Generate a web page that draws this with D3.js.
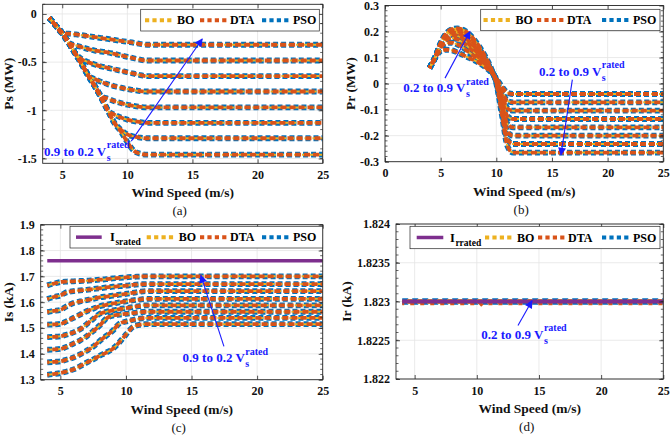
<!DOCTYPE html>
<html><head><meta charset="utf-8">
<script src="https://cdn.jsdelivr.net/npm/d3@7"></script>
<style>
body{margin:0;background:#fff}
svg{display:block;font-family:"Liberation Serif",serif}
text{font-family:"Liberation Serif",serif}
</style>
</head><body>
<svg id="chart" width="670" height="436"></svg>
<script>
// ---------------- DATA ----------------
const methods = ["BO", "DTA", "PSO"];
const windSpeed = [4,4.5,5,5.5,6,6.5,7,7.5,8,8.5,9,9.5,10,10.5,11,11.5,25];

// (a) Stator active power Ps (MW), curves 0.2 ... 0.9 Vs rated
const psCurves = [
  [-0.04,-0.12,-0.20,-0.205,-0.212,-0.22,-0.23,-0.24,-0.25,-0.26,-0.27,-0.28,-0.29,-0.30,-0.312,-0.32,-0.32],
  [-0.04,-0.12,-0.20,-0.30,-0.325,-0.345,-0.365,-0.38,-0.39,-0.40,-0.415,-0.43,-0.445,-0.46,-0.475,-0.483,-0.483],
  [-0.04,-0.12,-0.20,-0.30,-0.41,-0.47,-0.50,-0.525,-0.545,-0.56,-0.575,-0.59,-0.605,-0.62,-0.635,-0.645,-0.645],
  [-0.04,-0.12,-0.20,-0.30,-0.41,-0.52,-0.64,-0.675,-0.705,-0.73,-0.75,-0.765,-0.78,-0.79,-0.80,-0.805,-0.805],
  [-0.04,-0.12,-0.20,-0.30,-0.41,-0.52,-0.64,-0.75,-0.85,-0.88,-0.905,-0.925,-0.942,-0.955,-0.965,-0.97,-0.97],
  [-0.04,-0.12,-0.20,-0.30,-0.41,-0.52,-0.64,-0.75,-0.87,-1.00,-1.045,-1.075,-1.097,-1.113,-1.123,-1.13,-1.13],
  [-0.04,-0.12,-0.20,-0.30,-0.41,-0.52,-0.64,-0.75,-0.87,-1.00,-1.13,-1.20,-1.25,-1.272,-1.284,-1.29,-1.29],
  [-0.04,-0.12,-0.20,-0.30,-0.41,-0.52,-0.64,-0.75,-0.87,-1.00,-1.13,-1.22,-1.33,-1.42,-1.45,-1.46,-1.46]
];

// (b) Rotor active power Pr (MW), curves 0.2 ... 0.9 Vs rated
const prCurves = [
  [0.06,0.098,0.125,0.130,0.128,0.120,0.110,0.100,0.090,0.078,0.063,0.045,0.020,-0.012,-0.035,-0.040,-0.040],
  [0.06,0.100,0.138,0.155,0.157,0.150,0.138,0.122,0.105,0.088,0.070,0.048,0.018,-0.030,-0.066,-0.072,-0.072],
  [0.06,0.100,0.145,0.168,0.175,0.170,0.157,0.140,0.120,0.098,0.075,0.050,0.015,-0.045,-0.095,-0.104,-0.104],
  [0.06,0.100,0.150,0.178,0.187,0.184,0.172,0.155,0.133,0.108,0.080,0.052,0.012,-0.060,-0.125,-0.136,-0.136],
  [0.06,0.100,0.152,0.184,0.196,0.194,0.183,0.166,0.143,0.116,0.085,0.053,0.010,-0.075,-0.155,-0.168,-0.168],
  [0.06,0.100,0.154,0.188,0.202,0.202,0.192,0.176,0.152,0.124,0.090,0.055,0.008,-0.090,-0.185,-0.200,-0.200],
  [0.06,0.100,0.155,0.191,0.206,0.208,0.200,0.185,0.161,0.132,0.096,0.057,0.005,-0.105,-0.215,-0.232,-0.232],
  [0.06,0.100,0.156,0.193,0.209,0.212,0.207,0.193,0.170,0.140,0.105,0.062,0.000,-0.120,-0.240,-0.265,-0.265]
];

// (c) Stator current Is (kA), curves 0.2 ... 0.9 Vs rated
const isCurves = [
  [1.665,1.672,1.678,1.680,1.681,1.682,1.683,1.685,1.687,1.689,1.692,1.694,1.696,1.698,1.699,1.700,1.700],
  [1.612,1.620,1.626,1.639,1.643,1.646,1.648,1.651,1.654,1.657,1.660,1.662,1.664,1.667,1.669,1.670,1.670],
  [1.562,1.566,1.570,1.585,1.597,1.603,1.608,1.613,1.619,1.622,1.625,1.629,1.632,1.636,1.640,1.643,1.643],
  [1.513,1.514,1.516,1.527,1.539,1.552,1.565,1.575,1.584,1.590,1.595,1.599,1.603,1.607,1.610,1.613,1.613],
  [1.465,1.466,1.468,1.475,1.483,1.495,1.515,1.535,1.555,1.563,1.568,1.573,1.577,1.581,1.585,1.588,1.588],
  [1.416,1.417,1.419,1.428,1.440,1.452,1.468,1.488,1.510,1.537,1.548,1.552,1.555,1.558,1.561,1.563,1.563],
  [1.367,1.369,1.371,1.378,1.386,1.398,1.412,1.428,1.450,1.470,1.490,1.517,1.525,1.531,1.536,1.539,1.539],
  [1.319,1.322,1.326,1.332,1.340,1.352,1.366,1.378,1.393,1.405,1.420,1.445,1.475,1.503,1.512,1.515,1.515]
];
const ratedWind = [4, 25];
const isRated = [1.76, 1.76];

// (d) Rotor current Ir (kA)
const irWind  = [4, 6, 8, 10, 10.2, 10.4, 12, 14, 16, 18, 20, 22, 25];
const irBO    = [1.823,1.823,1.823,1.823,1.823,1.823,1.823,1.823,1.823,1.823,1.823,1.823,1.823];
const irDTA   = [1.823,1.823,1.823,1.823,1.82297,1.823,1.823,1.823,1.823,1.823,1.823,1.823,1.823];
const irPSO   = [1.823,1.823,1.823,1.823,1.823,1.823,1.823,1.823,1.823,1.823,1.823,1.823,1.823];
const irRated = [1.823, 1.823];

// ticks
const xTicks  = [5, 10, 15, 20, 25];
const xTicksB = [0, 5, 10, 15, 20, 25];
const psTicks = [-1.5, -1, -0.5, 0];
const prTicks = [-0.3, -0.2, -0.1, 0, 0.1, 0.2, 0.3];
const isTicks = [1.3, 1.4, 1.5, 1.6, 1.7, 1.8, 1.9];
const irTicks = [1.822, 1.8225, 1.823, 1.8235, 1.824];

// ---------------- STYLE ----------------
const FONT = '"Liberation Serif", serif';
const COL = {BO:"#EDB120", DTA:"#D95319", PSO:"#0072BD", rated:"#7E2F8E", ann:"#1a1aff", axis:"#262626", grid:"#e4e4e4"};
const LSTY = {
  PSO:{w:5.8, dash:"5 3", off:0},
  BO: {w:2.0, dash:"6 2", off:1},
  DTA:{w:3.8, dash:"6 3", off:4}
};
const svg = d3.select("#chart");
const defs = svg.append("defs");
defs.append("marker").attr("id","arr").attr("viewBox","0 0 10 10").attr("refX",9).attr("refY",5)
  .attr("markerWidth",9).attr("markerHeight",8).attr("markerUnits","userSpaceOnUse").attr("orient","auto")
  .append("path").attr("d","M0,0 L10,5 L0,10 z").attr("fill",COL.ann);

const fmt = d => String(+d.toFixed(5));

function vsText(g, px, py, str) {
  const t = g.append("text").attr("x",px).attr("y",py).attr("font-size",13).attr("font-weight","bold")
    .attr("font-family",FONT).attr("fill",COL.ann).text(str);
  const w = t.node().getComputedTextLength();
  g.append("text").attr("x",px+w+0.5).attr("y",py-7.5).attr("font-size",10).attr("font-weight","bold")
    .attr("font-family",FONT).attr("fill",COL.ann).text("rated");
  g.append("text").attr("x",px+w+0.5).attr("y",py+5).attr("font-size",10).attr("font-weight","bold")
    .attr("font-family",FONT).attr("fill",COL.ann).text("s");
}

function panel(cfg) {
  const g = svg.append("g").attr("font-family",FONT);
  const x = d3.scaleLinear().domain(cfg.xDom).range([cfg.L, cfg.R]);
  const y = d3.scaleLinear().domain(cfg.yDom).range([cfg.B, cfg.T]);
  const cid = "clip" + cfg.id;
  defs.append("clipPath").attr("id",cid).append("rect")
    .attr("x",cfg.L).attr("y",cfg.T).attr("width",cfg.R-cfg.L).attr("height",cfg.B-cfg.T);

  // grid
  g.append("g").selectAll("line").data(cfg.xTicks).join("line")
    .attr("x1",d=>x(d)).attr("x2",d=>x(d)).attr("y1",cfg.T).attr("y2",cfg.B)
    .attr("stroke",COL.grid).attr("stroke-width",0.8);
  g.append("g").selectAll("line").data(cfg.yTicks).join("line")
    .attr("y1",d=>y(d)).attr("y2",d=>y(d)).attr("x1",cfg.L).attr("x2",cfg.R)
    .attr("stroke",COL.grid).attr("stroke-width",0.8);

  // series
  const pg = g.append("g").attr("clip-path",`url(#${cid})`);
  cfg.draw(pg, x, y);

  // axes
  const ax = g.append("g");
  const bottom = d3.axisBottom(x).tickValues(cfg.xTicks).tickSizeInner(-4).tickSizeOuter(0).tickPadding(7).tickFormat(fmt);
  const top = d3.axisTop(x).tickValues(cfg.xTicks).tickSizeInner(-4).tickSizeOuter(0).tickFormat("");
  const left = d3.axisLeft(y).tickValues(cfg.yTicks).tickSizeInner(-4).tickSizeOuter(0).tickPadding(6).tickFormat(fmt);
  const right = d3.axisRight(y).tickValues(cfg.yTicks).tickSizeInner(-4).tickSizeOuter(0).tickFormat("");
  const gb = ax.append("g").attr("transform",`translate(0,${cfg.B})`).call(bottom);
  ax.append("g").attr("transform",`translate(0,${cfg.T})`).call(top);
  ax.append("g").attr("transform",`translate(${cfg.L},0)`).call(left);
  ax.append("g").attr("transform",`translate(${cfg.R},0)`).call(right);
  ax.selectAll("g").attr("font-family",FONT);
  ax.selectAll(".domain").remove();
  ax.selectAll("line").attr("stroke",COL.axis).attr("stroke-width",0.8);
  ax.selectAll("text").attr("font-size",12).attr("font-family",FONT)
    .attr("font-weight","bold").attr("fill","#111");
  gb.selectAll("text").attr("dy",null).attr("y",15.5);
  // minor y ticks
  const minor = d3.range(cfg.yDom[0], cfg.yDom[1] + 1e-9, cfg.minor)
    .map(v=>+(Math.round(v/cfg.minor)*cfg.minor).toFixed(6))
    .filter(v=>v>=cfg.yDom[0]-1e-9 && v<=cfg.yDom[1]+1e-9);
  ax.append("g").selectAll("line").data(minor).join("line")
    .attr("x1",cfg.L).attr("x2",cfg.L+2.5).attr("y1",d=>y(d)).attr("y2",d=>y(d))
    .attr("stroke",COL.axis).attr("stroke-width",0.7);
  ax.append("g").selectAll("line").data(minor).join("line")
    .attr("x1",cfg.R).attr("x2",cfg.R-2.5).attr("y1",d=>y(d)).attr("y2",d=>y(d))
    .attr("stroke",COL.axis).attr("stroke-width",0.7);
  // frame
  g.append("rect").attr("x",cfg.L).attr("y",cfg.T).attr("width",cfg.R-cfg.L).attr("height",cfg.B-cfg.T)
    .attr("fill","none").attr("stroke",COL.axis).attr("stroke-width",0.9);

  // labels
  g.append("text").attr("x",(cfg.L+cfg.R)/2).attr("y",cfg.B+34).attr("text-anchor","middle")
    .attr("font-size",13.5).attr("font-weight","bold").attr("fill","#111").text("Wind Speed (m/s)");
  g.append("text").attr("transform",`translate(${cfg.ylx},${(cfg.T+cfg.B)/2}) rotate(-90)`)
    .attr("text-anchor","middle").attr("font-size",13.5).attr("font-weight","bold").attr("fill","#111").text(cfg.ylabel);
  g.append("text").attr("x",(cfg.L+cfg.R)/2-3).attr("y",cfg.B+52).attr("text-anchor","middle")
    .attr("font-size",13).attr("fill","#111").text(cfg.caption);

  // annotations
  cfg.ann.forEach(a=>{
    g.append("line").attr("x1",x(a.from[0])).attr("y1",y(a.from[1])).attr("x2",x(a.to[0])).attr("y2",y(a.to[1]))
      .attr("stroke",COL.ann).attr("stroke-width",1.1).attr("marker-end","url(#arr)");
    vsText(g, x(a.text[0]), y(a.text[1]), a.label);
  });

  // legend
  const lg = g.append("g");
  const lb = cfg.legend;
  lg.append("rect").attr("x",lb.x).attr("y",lb.y).attr("width",lb.w).attr("height",lb.h)
    .attr("fill","#fff").attr("stroke",COL.axis).attr("stroke-width",0.7);
  const cy = lb.y + lb.h/2;
  lb.items.forEach(it=>{
    if (it.key === "rated") {
      lg.append("line").attr("x1",it.x0).attr("x2",it.x1).attr("y1",cy).attr("y2",cy)
        .attr("stroke",COL.rated).attr("stroke-width",3.5);
      const t = lg.append("text").attr("x",it.tx).attr("y",cy+4).attr("font-size",12.5).attr("font-weight","bold").text("I");
      const w = t.node().getComputedTextLength();
      lg.append("text").attr("x",it.tx+w+0.5).attr("y",cy+8).attr("font-size",9.5).attr("font-weight","bold").text(it.sub);
    } else {
      lg.append("line").attr("x1",it.x0).attr("x2",it.x1).attr("y1",cy).attr("y2",cy)
        .attr("stroke",COL[it.key]).attr("stroke-width",4).attr("stroke-dasharray","4.2 3.2");
      lg.append("text").attr("x",it.tx).attr("y",cy+4.3).attr("font-size",12).attr("font-weight","bold").text(it.key);
    }
  });
}

function drawFamily(curves) {
  return (pg, x, y) => {
    ["PSO","BO","DTA"].forEach(m=>{
      const s = LSTY[m];
      const line = d3.line().x((d,i)=>x(windSpeed[i])).y(d=>y(d)).curve(d3.curveMonotoneX);
      pg.append("g").selectAll("path").data(curves).join("path")
        .attr("d",line).attr("fill","none").attr("stroke",COL[m]).attr("stroke-width",s.w)
        .attr("stroke-dasharray",s.dash).attr("stroke-dashoffset",s.off)
        .attr("stroke-linecap","butt").attr("stroke-linejoin","round");
    });
  };
}

function legendItems(offset, withRated, sub) {
  const items = [];
  if (withRated) items.push({key:"rated", x0:offset.r0, x1:offset.r1, tx:offset.rt, sub});
  items.push({key:"BO", x0:offset.b0, x1:offset.b0+27, tx:offset.b0+32});
  items.push({key:"DTA", x0:offset.d0, x1:offset.d0+27, tx:offset.d0+30});
  items.push({key:"PSO", x0:offset.p0, x1:offset.p0+27, tx:offset.p0+31});
  return items;
}

// (a)
panel({
  id:"a", L:42.7, R:322.7, T:4.3, B:163.3, xDom:[3.5,25], yDom:[-1.55,0.1],
  xTicks:xTicks, yTicks:psTicks, minor:0.1, ylabel:"Ps (MW)", ylx:12.5, caption:"(a)",
  draw: drawFamily(psCurves),
  ann:[{from:[10.3,-1.32], to:[15.75,-0.26], text:[3.6,-1.472], label:"0.9 to 0.2 V"}],
  legend:{x:140.7, y:9.3, w:178.6, h:21.7, items:legendItems({b0:145, d0:200, p0:262}, false)}
});

// (b)
panel({
  id:"b", L:385, R:663.3, T:5.5, B:161.7, xDom:[0,25], yDom:[-0.3,0.3],
  xTicks:xTicksB, yTicks:prTicks, minor:0.02, ylabel:"Pr (MW)", ylx:355, caption:"(b)",
  draw: drawFamily(prCurves),
  ann:[{from:[5.39,0.021], to:[7.63,0.2], text:[1.64,-0.034], label:"0.2 to 0.9 V"},
       {from:[16.83,0.015], to:[15.81,-0.274], text:[13.84,0.030], label:"0.2 to 0.9 V"}],
  legend:{x:480.7, y:9.3, w:179.3, h:21.4, items:legendItems({b0:483.5, d0:537, p0:602}, false)}
});

// (c)
panel({
  id:"c", L:40.7, R:322.7, T:224.7, B:379.7, xDom:[3.5,25], yDom:[1.3,1.9],
  xTicks:xTicks, yTicks:isTicks, minor:0.02, ylabel:"Is (kA)", ylx:13, caption:"(c)",
  draw: (pg, x, y) => {
    pg.append("path").datum(isRated)
      .attr("d", d3.line().x((d,i)=>x(ratedWind[i])).y(d=>y(d)))
      .attr("fill","none").attr("stroke",COL.rated).attr("stroke-width",3.5);
    drawFamily(isCurves)(pg, x, y);
  },
  ann:[{from:[17.47,1.429], to:[15.71,1.704], text:[14.32,1.368], label:"0.9 to 0.2 V"}],
  legend:{x:70, y:226.3, w:252.7, h:21.7, items:legendItems({r0:76, r1:101.7, rt:110, b0:146.7, d0:200, p0:262}, true, "srated")}
});

// (d)
panel({
  id:"d", L:396, R:663.3, T:224, B:379, xDom:[3.5,25], yDom:[1.822,1.824],
  xTicks:xTicks, yTicks:irTicks, minor:0.0001, ylabel:"Ir (kA)", ylx:351, caption:"(d)",
  draw: (pg, x, y) => {
    const ln = w => d3.line().x((d,i)=>x(w[i])).y(d=>y(d));
    pg.append("path").datum(irPSO).attr("d",ln(irWind)).attr("fill","none").attr("stroke",COL.PSO)
      .attr("stroke-width",6.5).attr("stroke-dasharray","6 4");
    pg.append("path").datum(irBO).attr("d",ln(irWind)).attr("fill","none").attr("stroke",COL.BO)
      .attr("stroke-width",5).attr("stroke-dasharray","5 5").attr("stroke-dashoffset",5);
    pg.append("path").datum(irDTA).attr("d",ln(irWind)).attr("fill","none").attr("stroke",COL.DTA)
      .attr("stroke-width",5.5).attr("stroke-dasharray","4 6").attr("stroke-dashoffset",2)
      .attr("transform","translate(0,1)");
    pg.append("path").datum(irRated).attr("d",ln(ratedWind)).attr("fill","none").attr("stroke",COL.rated)
      .attr("stroke-width",4);
  },
  ann:[{from:[13.31,1.82269], to:[14.44,1.82301], text:[10.35,1.82252], label:"0.2 to 0.9 V"}],
  legend:{x:410, y:226.3, w:250, h:22.4, items:legendItems({r0:416.7, r1:443.3, rt:450, b0:485, d0:538, p0:602}, true, "rrated")}
});
</script>
</body></html>
